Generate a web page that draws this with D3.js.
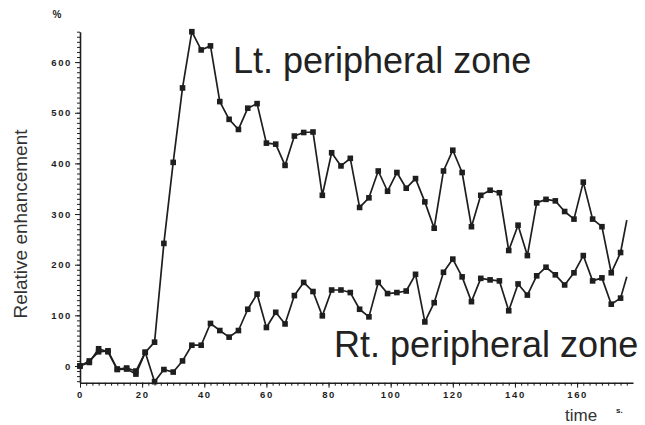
<!DOCTYPE html>
<html>
<head>
<meta charset="utf-8">
<script src="https://cdn.jsdelivr.net/npm/d3@7"></script>
<style>
  body { margin: 0; background: #fff; }
  svg { display: block; font-family: "Liberation Sans", Arial, sans-serif; }
</style>
</head>
<body>
<svg width="645" height="425"></svg>
<script>
// sample times (s) and the two curves
const times = [0,3,6,9,12,15,18,21,24,27,30,33,36,39,42,45,48,51,54,57,60,63,66,69,72,75,78,81,84,87,
  90,93,96,99,102,105,108,111,114,117,120,123,126,129,132,135,138,141,144,147,150,153,156,159,162,165,168,171,174];
const ltZone = [0,7,34,28,-7,-6,-16,27,47,242,402,549,660,624,632,522,487,467,509,518,440,438,396,454,461,462,337,421,395,410,
  313,332,385,345,382,351,370,324,272,385,426,382,275,337,347,342,228,278,218,322,329,326,305,290,363,290,275,184,224];
const rtZone = [0,10,28,30,-6,-4,-10,27,-31,-7,-12,10,41,41,84,70,57,70,112,142,76,106,83,139,165,147,99,150,150,145,
  112,97,165,143,145,148,181,87,125,185,211,176,127,173,170,168,109,162,140,178,195,180,160,184,218,168,174,122,134];
// last line segment runs on past the last marker
const tailTime = 176;
const ltTail = 288;
const rtTail = 176;

const xMajor = [0,20,40,60,80,100,120,140,160];
const yMajor = [0,100,200,300,400,500,600];

const svg = d3.select('svg');
const ink = '#1e1e1e';

const x = d3.scaleLinear().domain([0, 178]).range([80, 633]);
const y = d3.scaleLinear().domain([-33, 660]).range([382.7, 31.7]);

// minor ticks
svg.append('g')
    .attr('transform', 'translate(0,382.7)')
    .call(d3.axisBottom(x).tickValues(d3.range(0, 178, 2)).tickSize(3).tickSizeOuter(0).tickFormat(''))
    .call(g => g.select('.domain').remove());
svg.append('g')
    .attr('transform', 'translate(80,0)')
    .call(d3.axisLeft(y).tickValues(d3.range(-30, 661, 10)).tickSize(3).tickSizeOuter(0).tickFormat(''))
    .call(g => g.select('.domain').remove());

// major axes
svg.append('g')
    .attr('transform', 'translate(0,382.7)')
    .call(d3.axisBottom(x).tickValues(xMajor).tickSize(5).tickSizeOuter(0).tickPadding(4));
svg.append('g')
    .attr('transform', 'translate(80,0)')
    .call(d3.axisLeft(y).tickValues(yMajor).tickSize(5).tickSizeOuter(0).tickPadding(3));

svg.selectAll('.tick line').attr('stroke', ink).attr('stroke-width', 1);
svg.selectAll('.domain').attr('stroke', ink).attr('stroke-width', 1.6);
svg.selectAll('.tick text')
    .attr('fill', ink)
    .attr('font-family', '"Liberation Sans", Arial, sans-serif')
    .attr('font-size', 9.5)
    .attr('font-weight', 'bold')
    .attr('letter-spacing', 1.6);

// lines + square markers
const line = d3.line().x(d => x(d[0])).y(d => y(d[1]));

function drawSeries(vals, tail) {
    const pts = times.map((t, i) => [t, vals[i]]);
    svg.append('path')
        .datum(pts.concat([[tailTime, tail]]))
        .attr('d', line)
        .attr('fill', 'none')
        .attr('stroke', ink)
        .attr('stroke-width', 1.7)
        .attr('stroke-linejoin', 'round');
    svg.append('g').selectAll('rect')
        .data(pts)
        .enter().append('rect')
        .attr('x', d => x(d[0]) - 2.8)
        .attr('y', d => y(d[1]) - 2.8)
        .attr('width', 5.6)
        .attr('height', 5.6)
        .attr('fill', ink);
}
drawSeries(rtZone, rtTail);
drawSeries(ltZone, ltTail);

// texts
svg.append('text').attr('x', 57).attr('y', 18).attr('text-anchor', 'middle')
    .attr('font-size', 10).attr('font-weight', 'bold').attr('fill', ink).text('%');
svg.append('text').attr('transform', 'translate(27,224) rotate(-90)').attr('text-anchor', 'middle')
    .attr('font-size', 19).attr('fill', '#333').text('Relative enhancement');
svg.append('text').attr('x', 565).attr('y', 421).attr('font-size', 17).attr('fill', '#333').text('time');
svg.append('text').attr('x', 616).attr('y', 413).attr('font-size', 8).attr('font-weight', 'bold').attr('fill', ink).text('s.');
svg.append('text').attr('x', 233).attr('y', 73).attr('font-size', 36).attr('fill', '#222').text('Lt. peripheral zone');
svg.append('text').attr('x', 334).attr('y', 357).attr('font-size', 36).attr('fill', '#222').text('Rt. peripheral zone');
</script>
</body>
</html>
